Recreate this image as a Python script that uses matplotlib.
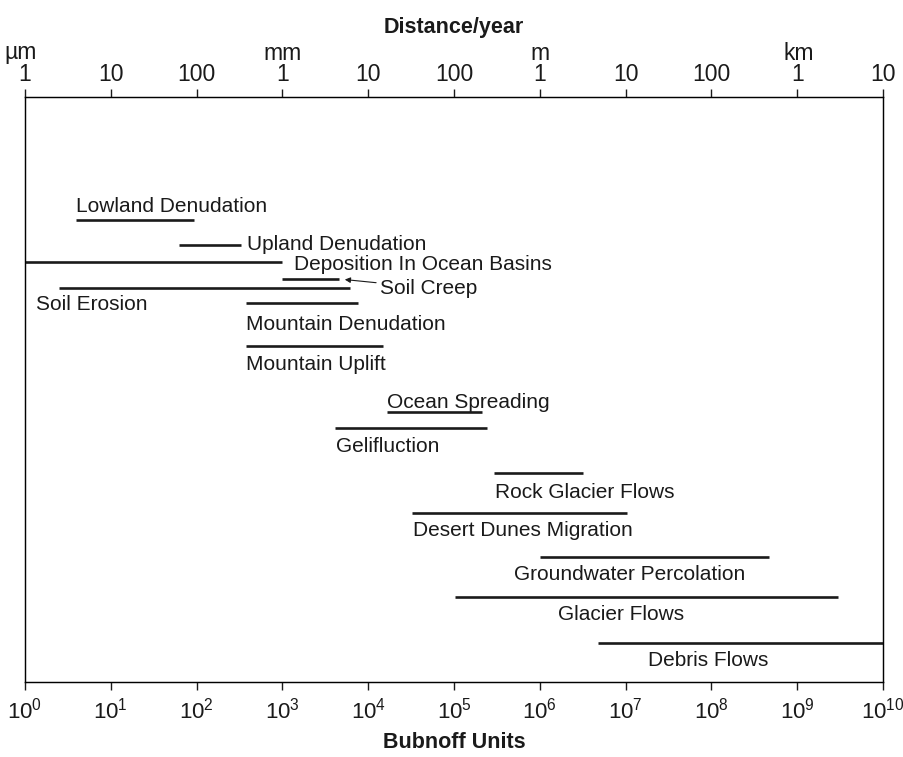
import matplotlib
matplotlib.use("Agg")
import matplotlib.pyplot as plt
from matplotlib.transforms import blended_transform_factory

plt.rcParams["font.family"] = ["Liberation Sans", "DejaVu Sans"]
plt.rcParams["mathtext.fontset"] = "custom"
plt.rcParams["mathtext.rm"] = "Liberation Sans"
plt.rcParams["mathtext.it"] = "Liberation Sans:italic"
plt.rcParams["mathtext.bf"] = "Liberation Sans:bold"

# Rates of geomorphic processes, in Bubnoff units (1 B = 1 um/yr)
processes = [
    "Lowland Denudation",
    "Upland Denudation",
    "Deposition In Ocean Basins",
    "Soil Creep",
    "Soil Erosion",
    "Mountain Denudation",
    "Mountain Uplift",
    "Ocean Spreading",
    "Gelifluction",
    "Rock Glacier Flows",
    "Desert Dunes Migration",
    "Groundwater Percolation",
    "Glacier Flows",
    "Debris Flows",
]
rate_low = [3.9, 62, 1, 1000, 2.5, 375, 375, 1.65e4, 4.1e3, 2.9e5, 3.2e4, 1.0e6, 1.03e5, 4.8e6]
rate_high = [93, 330, 1000, 4600, 6100, 7600, 1.5e4, 2.13e5, 2.42e5, 3.2e6, 1.04e7, 4.7e8, 3.0e9, 1e10]

# Bottom axis: powers of ten; top axis: the same rate as distance per year
bubnoff_ticks = [10.0 ** k for k in range(11)]
distance_labels = ["1", "10", "100", "1", "10", "100", "1", "10", "100", "1", "10"]
unit_labels = ["\u00b5m", "mm", "m", "km"]
unit_ticks = [1e0, 1e3, 1e6, 1e9]

# Layout: vertical row of each bar (frame spans 0..585 top to bottom)
row_pos = [123, 148, 165, 182, 191, 206, 249, 315, 331, 376, 416, 460, 500, 546]
# Label placement: which end of the bar it hangs from, x/y offset in pixels (y downward)
label_anchor = ["start", "end", "end", "end", "start", "start", "start",
                "start", "start", "start", "start", "start", "start", "start"]
label_dx = [0, 6, 12, 41, -23, 0, 0, 0, 1, 1, 1, -26, 103, 50]
label_dy = [-13, -1, 3, 9, 17, 21, 19, -10, 19, 19, 17, 18, 18, 18]

W, H = 904, 757
fig = plt.figure(figsize=(W / 100, H / 100), dpi=100)
left, right, top, bottom = 25, 883, 97, 682
ax = fig.add_axes([left / W, 1 - bottom / H, (right - left) / W, (bottom - top) / H])

ax.set_xscale("log")
ax.set_xlim(1, 1e10)
ax.set_ylim(585, 0)
ax.set_yticks([])

ink = "#1a1a1a"
fs = 15
for name, lo, hi, y, anc, dx, dy in zip(processes, rate_low, rate_high, row_pos,
                                         label_anchor, label_dx, label_dy):
    ax.plot([lo, hi], [y, y], color=ink, lw=1.9, solid_capstyle="butt", clip_on=False)
    x_anchor = lo if anc == "start" else hi
    if name == "Soil Creep":
        ax.annotate(name, xy=(hi, y), xytext=(dx, -dy), textcoords="offset pixels",
                    ha="left", va="center", fontsize=fs, color=ink,
                    arrowprops=dict(arrowstyle="-|>", color=ink, lw=0.8,
                                    mutation_scale=8, shrinkA=1, shrinkB=4))
    else:
        ax.annotate(name, xy=(x_anchor, y), xytext=(dx, -dy), textcoords="offset pixels",
                    ha="left", va="center", fontsize=fs, color=ink)

for s in ax.spines.values():
    s.set_linewidth(1.0)
    s.set_color(ink)

ax.set_xticks(bubnoff_ticks)
ax.minorticks_off()
ax.tick_params(axis="x", direction="out", length=6, width=1.0, pad=5,
               labelsize=16, colors=ink)

top_ax = ax.twiny()
top_ax.set_xscale("log")
top_ax.set_xlim(ax.get_xlim())
top_ax.set_xticks(bubnoff_ticks)
top_ax.set_xticklabels(distance_labels)
top_ax.minorticks_off()
top_ax.tick_params(axis="x", direction="out", length=6, width=1.0, pad=2,
                   labelsize=16.5, colors=ink)

trans = blended_transform_factory(ax.transData, ax.transAxes)
unit_shift = [-4, 0, 0, 2]
for u, x, sx in zip(unit_labels, unit_ticks, unit_shift):
    ax.annotate(u, xy=(x, 1), xycoords=trans, xytext=(sx, 44), textcoords="offset pixels",
                ha="center", va="center", fontsize=16.5, color=ink)

cx = (left + right) / 2 / W
fig.text(cx, 1 - 28 / H, "Distance/year", ha="center", va="center",
         fontsize=15.5, fontweight="bold", color=ink)
fig.text(cx, 1 - 742 / H, "Bubnoff Units", ha="center", va="center",
         fontsize=15.5, fontweight="bold", color=ink)

fig.savefig("out.png", dpi=100)
